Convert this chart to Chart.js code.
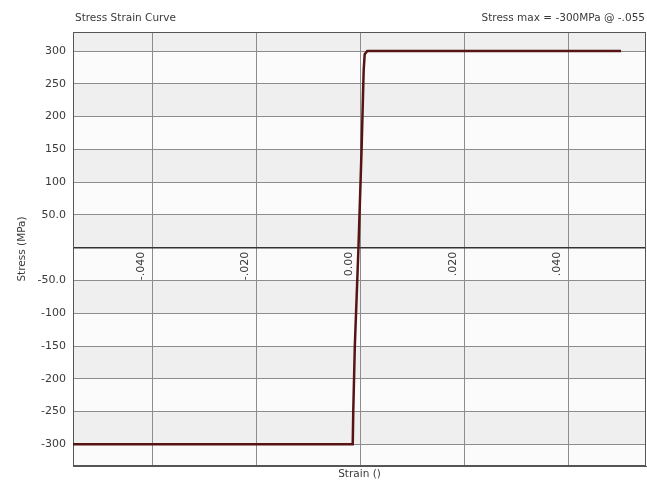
<!DOCTYPE html>
<html>
<head>
<meta charset="utf-8">
<script src="https://cdn.jsdelivr.net/npm/chart.js@4"></script>
<style>
  html, body { margin: 0; padding: 0; background: #fff; }
  #wrap { width: 647px; height: 483px; }
</style>
</head>
<body>
<div id="wrap"><canvas id="stressChart" width="647" height="483"></canvas></div>
<script>
// data
const strain = [-0.0553, -0.0015, -0.0014, -0.0011, -0.0004, 0.0002, 0.0006, 0.0008, 0.0013, 0.0501];
const stress = [-300, -300, -250, -150, 0, 150, 270, 295, 300, 300];

const xTickValues = [-0.04, -0.02, 0, 0.02, 0.04];
const xTickLabels = ['-.040', '-.020', '0.00', '.020', '.040'];
const yTickValues = [-300, -250, -200, -150, -100, -50, 0, 50, 100, 150, 200, 250, 300];

const chartTitle = 'Stress Strain Curve';
const maxNote = 'Stress max = -300MPa @ -.055';
const xTitle = 'Strain ()';
const yTitle = 'Stress (MPa)';

const FONT = '"DejaVu Sans", Verdana, sans-serif';
const TEXT = '#3a3a3a';

const decorPlugin = {
    id: 'decor',
    beforeDatasetsDraw(chart) {
        const { ctx, chartArea: a } = chart;
        // top/right frame
        ctx.save();
        ctx.strokeStyle = '#555';
        ctx.lineWidth = 1;
        ctx.strokeRect(a.left + 0.5, a.top + 0.5, a.right - a.left - 1, a.bottom - a.top - 1);
        ctx.restore();
    },
    beforeDraw(chart) {
        const { ctx, chartArea: a, scales } = chart;
        const y = scales.y;
        ctx.save();
        ctx.fillStyle = '#fbfbfb';
        ctx.fillRect(a.left, a.top, a.right - a.left, a.bottom - a.top);
        // alternating bands, grey above 300, then every second band
        const edges = [y.max].concat(yTickValues.slice().reverse()).concat([y.min]);
        ctx.fillStyle = '#efefef';
        for (let i = 0; i < edges.length - 1; i += 2) {
            const t = y.getPixelForValue(edges[i]);
            const b = y.getPixelForValue(edges[i + 1]);
            ctx.fillRect(a.left, t, a.right - a.left, b - t);
        }
        ctx.restore();
    },
    afterDraw(chart) {
        const { ctx, chartArea: a, scales } = chart;
        ctx.save();
        ctx.fillStyle = TEXT;
        ctx.font = '10.5px ' + FONT;
        ctx.textBaseline = 'middle';
        ctx.textAlign = 'left';
        ctx.fillText(chartTitle, 75, 18);
        ctx.textAlign = 'right';
        ctx.fillText(maxNote, 645, 18);

        ctx.textAlign = 'center';
        ctx.fillText(xTitle, (a.left + a.right) / 2, 474);

        ctx.save();
        ctx.translate(22, (a.top + a.bottom) / 2);
        ctx.rotate(-Math.PI / 2);
        ctx.fillText(yTitle, 0, 0);
        ctx.restore();

        // x tick labels sit just under the zero line, rotated
        const y0 = scales.y.getPixelForValue(0);
        ctx.font = '11px ' + FONT;
        xTickValues.forEach((v, i) => {
            const px = scales.x.getPixelForValue(v);
            ctx.save();
            ctx.translate(px - 11, y0 + 4);
            ctx.rotate(-Math.PI / 2);
            ctx.textAlign = 'right';
            ctx.textBaseline = 'middle';
            ctx.fillText(xTickLabels[i], 0, 0);
            ctx.restore();
        });
        ctx.restore();
    }
};

new Chart(document.getElementById('stressChart'), {
    type: 'scatter',
    data: {
        datasets: [{
            label: 'Stress',
            data: strain.map((s, i) => ({ x: s, y: stress[i] })),
            showLine: true,
            borderColor: '#561414',
            borderWidth: 2.5,
            pointRadius: 0,
            tension: 0
        }]
    },
    options: {
        responsive: false,
        animation: false,
        layout: { padding: { top: 32, right: 1, left: 0, bottom: 0 } },
        plugins: {
            legend: { display: false },
            tooltip: { enabled: false }
        },
        scales: {
            x: {
                type: 'linear',
                min: -0.0553,
                max: 0.0549,
                afterBuildTicks: (s) => { s.ticks = xTickValues.map(v => ({ value: v })); },
                afterFit: (s) => { s.height = 17; },
                ticks: { display: false },
                grid: { color: '#8c8c8c', lineWidth: 1, drawTicks: false },
                border: { color: '#555' }
            },
            y: {
                min: -333,
                max: 329,
                afterBuildTicks: (s) => { s.ticks = yTickValues.map(v => ({ value: v })); },
                afterFit: (s) => { s.width = 73; },
                ticks: {
                    padding: 7,
                    color: TEXT,
                    font: { family: FONT, size: 11 },
                    callback: (v) => v === 0 ? '' : (Math.abs(v) < 100 ? v.toFixed(1) : String(v))
                },
                grid: {
                    color: (c) => c.tick && c.tick.value === 0 ? '#333' : '#8c8c8c',
                    lineWidth: (c) => c.tick && c.tick.value === 0 ? 1.5 : 1,
                    drawTicks: false
                },
                border: { color: '#555' }
            }
        }
    },
    plugins: [decorPlugin]
});
</script>
</body>
</html>
